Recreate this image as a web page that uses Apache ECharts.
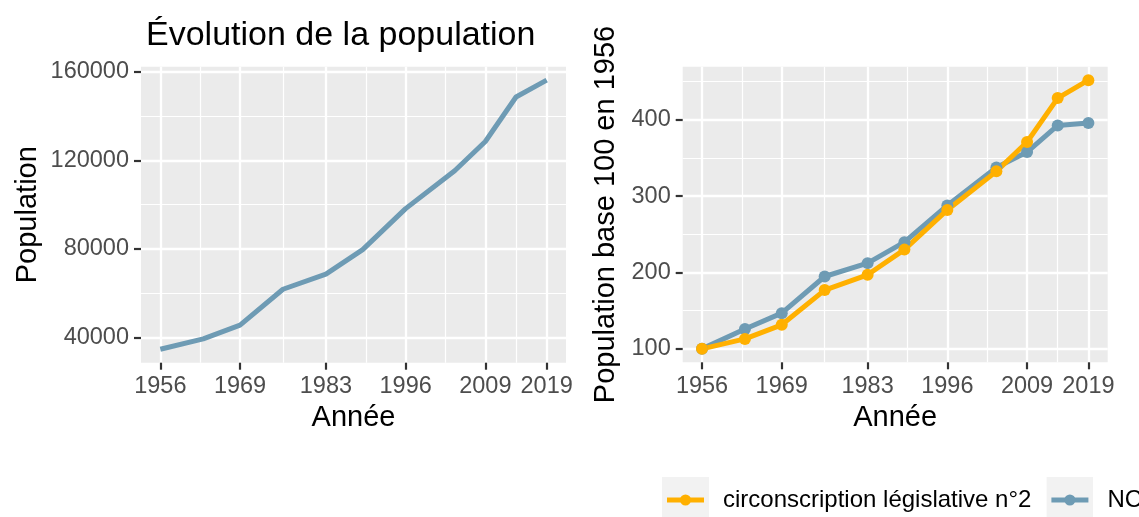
<!DOCTYPE html>
<html>
<head>
<meta charset="utf-8">
<script src="https://cdn.jsdelivr.net/npm/echarts@6/dist/echarts.min.js"></script>
<style>
  html, body { margin: 0; padding: 0; background: #fff; }
  #main { width: 1139px; height: 517px; }
</style>
</head>
<body>
<div id="main"></div>
<script>
// recensements
const years = [1956, 1963, 1969, 1976, 1983, 1989, 1996, 2004, 2009, 2014, 2019];
const population = [34700, 39400, 45600, 61800, 68600, 79700, 98200, 115300, 128500, 148600, 156200];
const indexCirc = [100, 113, 131.5, 177, 197, 230, 282, 332.5, 371, 428.5, 452];
const indexNC = [100, 126, 146.8, 194.8, 212.3, 239.8, 287.8, 337.7, 357.8, 392.7, 396];

const yearBreaks = [1956, 1969, 1983, 1996, 2009, 2019];
const yearMinor = [1962.5, 1976, 1989.5, 2002.5, 2014];
const popBreaks = [40000, 80000, 120000, 160000];
const popMinor = [60000, 100000, 140000];
const idxBreaks = [100, 200, 300, 400];
const idxMinor = [150, 250, 350, 450];

const circName = 'circonscription législative n°2';
const ncName = 'NC';
const orange = '#FFB000';
const blue = '#6E9BB4';

let myChart = echarts.init(document.getElementById('main'));

const pairs = (vals) => years.map((y, i) => [y, vals[i]]);

const font = 'Liberation Sans, Arial, sans-serif';
const xMin = 1952.85, xMax = 2022.15;

function keyIcon(col) {
  const svg = '<svg xmlns="http://www.w3.org/2000/svg" width="47" height="47">' +
    '<rect x="0" y="0" width="47" height="47" fill="#F2F2F2"/>' +
    '<line x1="5" y1="23.5" x2="42" y2="23.5" stroke="' + col + '" stroke-width="5"/>' +
    '<circle cx="23.5" cy="23.5" r="5.5" fill="' + col + '"/></svg>';
  return 'image://data:image/svg+xml;charset=utf-8,' + encodeURIComponent(svg);
}

function majorX(grid) {
  return {
    type: 'value', gridIndex: grid, min: xMin, max: xMax, position: 'bottom',
    name: 'Année', nameLocation: 'middle', nameGap: 41,
    nameTextStyle: { fontSize: 29, color: '#000', fontFamily: font },
    axisLine: { show: false },
    axisTick: { show: true, length: 7, customValues: yearBreaks, lineStyle: { color: '#333333', width: 2.2 } },
    axisLabel: { customValues: yearBreaks, margin: 12, fontSize: 23.5, color: '#4D4D4D', fontFamily: font,
      formatter: (v) => String(v) },
    splitLine: { show: true, lineStyle: { color: '#fff', width: 2.3 } }
  };
}
function minorAxis(grid, vals, min, max, pos) {
  return {
    type: 'value', gridIndex: grid, min: min, max: max, position: pos,
    axisLine: { show: false }, axisLabel: { show: false },
    axisTick: { show: false, customValues: vals },
    splitLine: { show: true, lineStyle: { color: '#fff', width: 1.2 } }
  };
}
function majorY(grid, name, gap, vals, min, max) {
  return {
    type: 'value', gridIndex: grid, min: min, max: max, position: 'left',
    name: name, nameLocation: 'middle', nameGap: gap,
    nameTextStyle: { fontSize: 29, color: '#000', fontFamily: font },
    axisLine: { show: false },
    axisTick: { show: true, length: 7, customValues: vals, lineStyle: { color: '#333333', width: 2.2 } },
    axisLabel: { customValues: vals, margin: 12, fontSize: 23.5, color: '#4D4D4D', fontFamily: font,
      formatter: (v) => String(v) },
    splitLine: { show: true, lineStyle: { color: '#fff', width: 2.3 } }
  };
}

const popMin = 28640, popMax = 162260;
const idxMin = 82.4, idxMax = 469.6;

let option = {
  animation: false,
  backgroundColor: '#fff',
  title: {
    text: 'Évolution de la population',
    left: 141, top: 14,
    textStyle: { fontSize: 34, fontWeight: 'normal', color: '#000', fontFamily: font }
  },
  legend: {
    left: 662, top: 476.5, width: 700, padding: 0,
    itemWidth: 47, itemHeight: 47, itemGap: 15,
    textStyle: { fontSize: 24, color: '#000', fontFamily: font, padding: [0, 0, 0, 9] },
    data: [
      { name: circName, icon: keyIcon(orange) },
      { name: ncName, icon: keyIcon(blue) }
    ]
  },
  grid: [
    { left: 141, top: 66.7, width: 425, height: 296, backgroundColor: '#EBEBEB', show: true, borderWidth: 0 },
    { left: 682.7, top: 66.7, width: 425, height: 295.6, backgroundColor: '#EBEBEB', show: true, borderWidth: 0 }
  ],
  xAxis: [
    minorAxis(0, yearMinor, xMin, xMax, 'top'),
    majorX(0),
    minorAxis(1, yearMinor, xMin, xMax, 'top'),
    majorX(1)
  ],
  yAxis: [
    minorAxis(0, popMinor, popMin, popMax, 'right'),
    majorY(0, 'Population', 99, popBreaks, popMin, popMax),
    minorAxis(1, idxMinor, idxMin, idxMax, 'right'),
    majorY(1, 'Population base 100 en 1956', 62, idxBreaks, idxMin, idxMax)
  ],
  series: [
    {
      type: 'line', xAxisIndex: 1, yAxisIndex: 1, data: pairs(population),
      showSymbol: false, lineStyle: { color: blue, width: 5 }, itemStyle: { color: blue }
    },
    {
      name: ncName, type: 'line', xAxisIndex: 3, yAxisIndex: 3, data: pairs(indexNC),
      symbol: 'circle', symbolSize: 12, lineStyle: { color: blue, width: 5 }, itemStyle: { color: blue }
    },
    {
      name: circName, type: 'line', xAxisIndex: 3, yAxisIndex: 3, data: pairs(indexCirc),
      symbol: 'circle', symbolSize: 12, lineStyle: { color: orange, width: 5 }, itemStyle: { color: orange }
    }
  ]
};

option && myChart.setOption(option);
</script>
</body>
</html>
